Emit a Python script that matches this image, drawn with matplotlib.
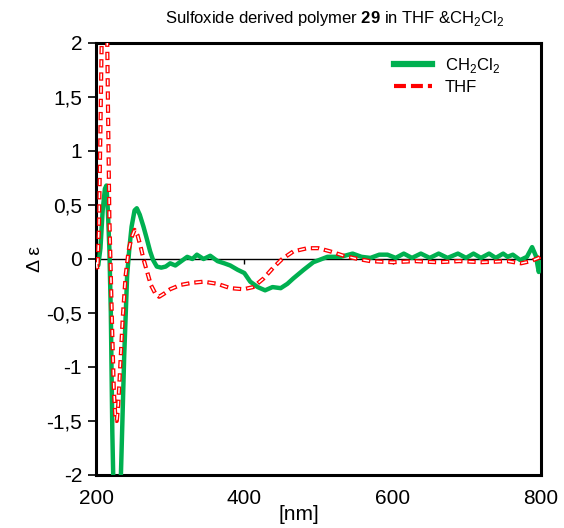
import matplotlib
matplotlib.use("Agg")
import matplotlib.pyplot as plt
from matplotlib.lines import Line2D

plt.rcParams['font.family'] = ['Liberation Sans', 'DejaVu Sans']
plt.rcParams['mathtext.fontset'] = 'custom'
plt.rcParams['mathtext.rm'] = 'Liberation Sans'
plt.rcParams['mathtext.bf'] = 'Liberation Sans:bold'
plt.rcParams['lines.scale_dashes'] = False

# CH2Cl2 spectrum (green)
wl_dcm = [200, 203, 206, 209, 212, 214, 216, 218, 220, 222, 225, 228, 231, 234, 238,
          242, 245, 248, 252, 255, 259, 264, 268, 273, 277, 282, 288, 294, 300, 307,
          315, 323, 330, 336, 345, 354, 364, 373, 381, 391, 400, 408, 418, 428, 438,
          449, 458, 466, 480, 493, 512, 530, 546, 558, 570, 582, 593, 604, 615, 626,
          638, 650, 662, 674, 688, 699, 709, 719, 730, 739, 749, 755, 762, 772, 781,
          788, 793, 797, 800]
de_dcm = [-0.02, -0.06, 0.1, 0.45, 0.65, 0.68, 0.45, 0.1, -0.5, -1.6, -2.6, -2.9, -2.6, -1.9, -0.9,
          -0.15, 0.1, 0.3, 0.45, 0.47, 0.41, 0.3, 0.2, 0.07, -0.01, -0.07, -0.08, -0.07, -0.04, -0.06,
          -0.02, 0.02, 0.0, 0.04, 0.0, 0.03, -0.02, -0.04, -0.06, -0.1, -0.13, -0.21, -0.26, -0.29, -0.26,
          -0.27, -0.23, -0.18, -0.1, -0.03, 0.02, 0.02, 0.05, 0.02, 0.01, 0.04, 0.04, 0.01, 0.05, 0.01,
          0.05, 0.01, 0.05, 0.01, 0.05, 0.01, 0.05, 0.01, 0.05, 0.01, 0.05, 0.02, 0.04, -0.01, 0.02,
          0.11, 0.03, -0.12, -0.03]

# THF spectrum (red, dashed)
wl_thf = [200, 202, 204, 206, 208, 211, 214, 216, 218, 220, 222, 224, 226, 228, 230,
          233, 236, 240, 244, 248, 252, 256, 260, 264, 269, 274, 280, 285, 292, 300,
          314, 330, 345, 364, 381, 399, 412, 426, 439, 451, 466, 485, 500, 516, 534,
          553, 570, 600, 630, 660, 690, 720, 755, 773, 786, 797, 800]
de_thf = [-0.02, -0.1, 0.3, 1.2, 2.2, 3.0, 2.7, 1.5, 0.4, -0.15, -0.7, -1.2, -1.45, -1.5, -1.35,
          -0.95, -0.55, -0.15, 0.08, 0.2, 0.27, 0.22, 0.12, 0.0, -0.12, -0.24, -0.32, -0.35, -0.32, -0.28,
          -0.24, -0.22, -0.21, -0.23, -0.27, -0.28, -0.26, -0.18, -0.08, 0.0, 0.07, 0.1, 0.1, 0.07, 0.03,
          0.0, -0.02, -0.03, -0.02, -0.03, -0.02, -0.03, -0.02, -0.04, -0.02, 0.01, 0.03]

x_ticks = [200, 400, 600, 800]
y_ticks = [-2, -1.5, -1, -0.5, 0, 0.5, 1, 1.5, 2]
y_labels = ['-2', '-1,5', '-1', '-0,5', '0', '0,5', '1', '1,5', '2']

green = '#00b050'
red = '#ff0000'

fig = plt.figure(figsize=(5.64, 5.28), dpi=100)
ax = fig.add_axes([96 / 564, 1 - 475 / 528, 445 / 564, 432 / 528])

# zero line with its small tick marks
ax.axhline(0, color='black', lw=1, zorder=1)
ax.vlines(x_ticks, -0.05, 0, color='black', lw=1, zorder=1)

ax.plot(wl_dcm, de_dcm, color=green, lw=3.2, solid_joinstyle='round', zorder=3)
# hollow red dashes: red outline dash with a white core
ax.plot(wl_thf, de_thf, color=red, lw=3.0, linestyle=(0, (6.0, 3.5)), zorder=4)
ax.plot(wl_thf, de_thf, color='white', lw=1.1, linestyle=(8.6, (4.2, 5.3)), zorder=5)

ax.set_xlim(200, 800)
ax.set_ylim(-2, 2)
ax.set_xticks(x_ticks)
ax.set_yticks(y_ticks)
ax.set_yticklabels(y_labels)
ax.tick_params(axis='x', length=0, pad=10, labelsize=15)
ax.tick_params(axis='y', direction='out', length=6, width=1.2, pad=4, labelsize=15)
for s in ax.spines.values():
    s.set_linewidth(2.2)
    s.set_color('black')

fig.text(36 / 564, 1 - 259 / 528, 'Δ ε', rotation=90, ha='center', va='center', fontsize=14)
fig.text(299 / 564, 1 - 515 / 528, '[nm]', ha='center', va='center', fontsize=15)
fig.text(335 / 564, 1 - 19 / 528,
         r'Sulfoxide derived polymer $\mathbf{29}$ in THF &CH$_\mathrm{2}$Cl$_\mathrm{2}$',
         ha='center', va='center', fontsize=12)

handles = [Line2D([], [], color=green, lw=4.5),
           Line2D([], [], color=red, lw=3.0, linestyle=(0, (8.6, 3.6)))]
ax.legend(handles, [r'CH$_\mathrm{2}$Cl$_\mathrm{2}$', 'THF'], loc='upper left',
          bbox_to_anchor=(394 / 564, 1 - 56 / 528), bbox_transform=fig.transFigure,
          frameon=False, fontsize=12, handlelength=2.3, handletextpad=0.75,
          labelspacing=0.3, borderpad=0, borderaxespad=0)

fig.savefig('out.png', dpi=100)
